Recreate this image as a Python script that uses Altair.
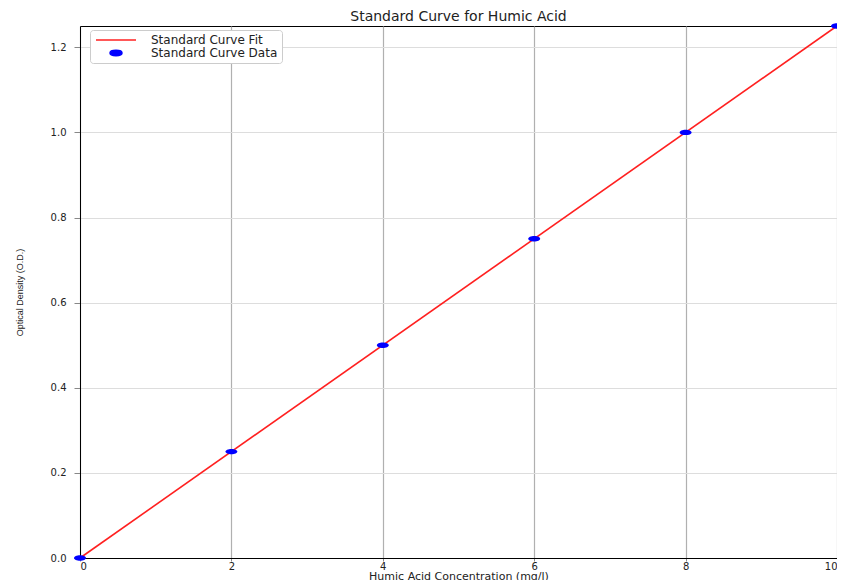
import altair as alt
import pandas as pd

conc = [0, 2, 4, 6, 8, 10]
od = [0.0, 0.25, 0.5, 0.75, 1.0, 1.25]
fit_x = [0, 10]
fit_y = [0.0, 1.25]

series = ["Standard Curve Fit", "Standard Curve Data"]
pts = pd.DataFrame({"x": conc, "y": od, "s": series[1]})
fit = pd.DataFrame({"x": fit_x, "y": fit_y, "s": series[0]})

ellipse = "M-1,0 A1,0.45 0 1,0 1,0 A1,0.45 0 1,0 -1,0 Z"
hline = "M-4,0 H4"
color_scale = alt.Scale(domain=series, range=["#ff2020", "#0000ff"])
shape_scale = alt.Scale(domain=series, range=[hline, ellipse])
size_scale = alt.Scale(domain=series, range=[100, 144])

xenc = alt.X("x:Q", scale=alt.Scale(domain=[0, 10], nice=False),
             axis=alt.Axis(values=[0, 2, 4, 6, 8, 10], title="Humic Acid Concentration (mg/l)",
                           gridColor="#b0b0b0", gridWidth=1.2, labelFontSize=10, titleFontSize=11,
                           titlePadding=-1, labelPadding=0, tickSize=3, domainColor="#000",
                           labelColor="#222", titleColor="#222", titleFont="DejaVu Sans",
                           titleFontWeight="normal", labelFont="DejaVu Sans"))
yenc = alt.Y("y:Q", scale=alt.Scale(domain=[0, 1.25], nice=False),
             axis=alt.Axis(values=[0, 0.2, 0.4, 0.6, 0.8, 1.0, 1.2], format=".1f",
                           title="Optical Density (O.D.)", gridColor="#dddddd", gridWidth=1,
                           labelFontSize=10, titleFontSize=9, titleFont="Liberation Sans",
                           titleFontWeight="normal", titlePadding=26, labelPadding=8, tickSize=6,
                           domainColor="#000", labelColor="#222", titleColor="#222",
                           labelFont="DejaVu Sans"))

legend = alt.Legend(title=None, orient="none", legendX=10, legendY=4, labelFontSize=12,
                    labelFont="DejaVu Sans", labelColor="#222",
                    rowPadding=-6, padding=4, strokeColor="#cccccc", fillColor="white",
                    cornerRadius=3, symbolStrokeWidth=1.5, symbolOffset=15, labelOffset=28)

line = alt.Chart(fit).mark_line(strokeWidth=1.6).encode(
    x=xenc, y=yenc,
    color=alt.Color("s:N", scale=color_scale, legend=legend),
    shape=alt.Shape("s:N", scale=shape_scale, legend=legend),
)
points = alt.Chart(pts).mark_point(filled=True, opacity=1).encode(
    x=xenc, y=yenc,
    color=alt.Color("s:N", scale=color_scale, legend=legend),
    shape=alt.Shape("s:N", scale=shape_scale, legend=legend),
    size=alt.Size("s:N", scale=size_scale, legend=legend),
)

chart = alt.layer(line, points).properties(
    width=757, height=532,
    title=alt.TitleParams("Standard Curve for Humic Acid", fontSize=14, font="DejaVu Sans",
                          fontWeight="normal", color="#222", offset=-1),
    autosize=alt.AutoSizeParams(type="none"),
    padding={"left": 72, "top": 18, "right": 0, "bottom": 22},
).configure_view(stroke="#000", strokeWidth=1)

chart.save("out.html", embed_options={"renderer": "svg", "actions": False})
